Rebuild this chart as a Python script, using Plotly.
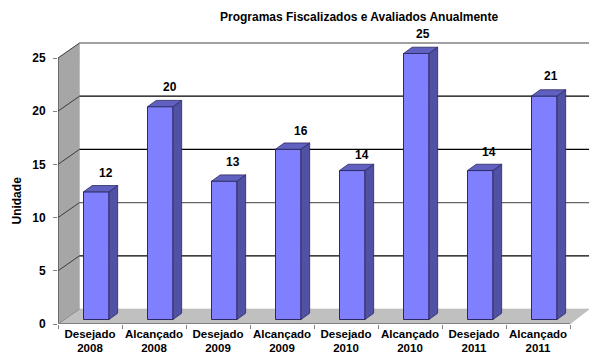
import plotly.graph_objects as go

categories = ["Desejado<br>2008", "Alcançado<br>2008", "Desejado<br>2009", "Alcançado<br>2009",
              "Desejado<br>2010", "Alcançado<br>2010", "Desejado<br>2011", "Alcançado<br>2011"]
values = [12, 20, 13, 16, 14, 25, 14, 21]
y_ticks = [0, 5, 10, 15, 20, 25]
grid_colors = ["#808080", "#000000", "#666666", "#000000", "#000000", "#444444"]
label_nudge_x = [5, 5, 4, 8, 5, 2, 4, 2]
label_nudge_y = [1, 1, 1, 0, -3, 1, 0, 2]

W, H = 589, 357
L, R, T, B = 57.5, 0, 30, 33
PX_X = 64.06
PX_Y = 10.64
x_range = [-0.5, -0.5 + (W - L - R) / PX_X]
y_range = [0, (H - T - B) / PX_Y]

wall_dx, wall_dy = 21.5 / PX_X, 15 / PX_Y
bar_off_x, bar_off_y = 6.25 / PX_X, 4.5 / PX_Y
bar_w = 25.5 / PX_X
depth_x, depth_y = 8.7 / PX_X, 6.3 / PX_Y
xs = list(range(len(values)))
x_left, x_right = -0.5, len(values) - 0.5
top_v = y_ticks[-1]


def poly(points):
    return "M" + " L".join(f"{a},{b}" for a, b in points) + " Z"


shapes = [
    dict(type="path", layer="below", xref="x", yref="y",
         path=poly([(x_left, 0), (x_left + wall_dx, wall_dy), (x_left + wall_dx, top_v + wall_dy), (x_left, top_v)]),
         fillcolor="#A6A6A6", line=dict(color="#A6A6A6", width=0.5)),
    dict(type="path", layer="below", xref="x", yref="y",
         path=poly([(x_left, 0), (x_right, 0), (x_right + wall_dx * 0.9, wall_dy), (x_left + wall_dx, wall_dy)]),
         fillcolor="#C0C0C0", line=dict(color="#B0B0B0", width=0.5)),
    dict(type="line", layer="below", xref="x", yref="y", x0=x_left, x1=x_left, y0=0, y1=top_v,
         line=dict(color="#303030", width=1)),
    dict(type="line", layer="below", xref="x", yref="y", x0=x_left, x1=x_right, y0=0, y1=0,
         line=dict(color="#808080", width=2)),
]
for t, c in zip(y_ticks, grid_colors):
    if t > 0:
        shapes.append(dict(type="line", layer="below", xref="x", yref="y",
                           x0=x_left + wall_dx, x1=x_range[1], y0=t + wall_dy, y1=t + wall_dy,
                           line=dict(color=c, width=1.2)))
    shapes.append(dict(type="line", layer="below", xref="x", yref="y",
                       x0=x_left, x1=x_left + wall_dx, y0=t, y1=t + wall_dy,
                       line=dict(color="#222222" if t else "#808080", width=0.8)))

fig = go.Figure()
fig.add_trace(go.Bar(
    x=[i + bar_off_x for i in xs], y=values, base=[bar_off_y] * len(values), width=bar_w,
    marker=dict(color="#8080FF", line=dict(color="#2A2A60", width=1)), hoverinfo="skip"))

for i, v in zip(xs, values):
    x0 = i + bar_off_x - bar_w / 2
    x1 = i + bar_off_x + bar_w / 2
    y0 = bar_off_y
    y1 = bar_off_y + v
    fig.add_trace(go.Scatter(
        x=[x1, x1 + depth_x, x1 + depth_x, x1, x1], y=[y0, y0 + depth_y, y1 + depth_y, y1, y0],
        mode="lines", fill="toself", fillcolor="#5050A5",
        line=dict(color="#2A2A60", width=0.8), hoverinfo="skip"))
    fig.add_trace(go.Scatter(
        x=[x0, x1, x1 + depth_x, x0 + depth_x, x0], y=[y1, y1, y1 + depth_y, y1 + depth_y, y1],
        mode="lines", fill="toself", fillcolor="#6060C0",
        line=dict(color="#2A2A60", width=0.8), hoverinfo="skip"))

font_bold = "Liberation Sans"
annotations = [
    dict(x=i + bar_off_x + depth_x / 2, y=bar_off_y + v + depth_y, xref="x", yref="y", text=f"<b>{v}</b>",
         showarrow=False, yanchor="bottom", xshift=nx, yshift=3 + ny,
         font=dict(family=font_bold, size=12, color="#000000"))
    for i, v, nx, ny in zip(xs, values, label_nudge_x, label_nudge_y)
]
annotations.append(dict(xref="paper", yref="paper", x=(359 - L) / (W - L), y=1 + (T - 17) / (H - T - B),
                        xanchor="center", yanchor="middle",
                        text="<b>Programas Fiscalizados e Avaliados Anualmente</b>", showarrow=False,
                        font=dict(family=font_bold, size=12, color="#000000")))
annotations.append(dict(xref="paper", yref="paper", x=(16 - L) / (W - L), y=(H - B - 201) / (H - T - B),
                        xanchor="center", yanchor="middle",
                        text="<b>Unidade</b>", showarrow=False, textangle=-90,
                        font=dict(family=font_bold, size=12, color="#000000")))

fig.update_layout(
    width=W, height=H, margin=dict(l=L, r=R, t=T, b=B), autosize=False,
    paper_bgcolor="#FFFFFF", plot_bgcolor="#FFFFFF", showlegend=False, barmode="overlay",
    shapes=shapes, annotations=annotations,
    font=dict(family=font_bold, color="#000000"),
    xaxis=dict(range=x_range, tickmode="array", tickvals=xs,
               ticktext=[f"<b>{c.replace('<br>', '</b><br><b>')}</b>" for c in categories],
               ticks="", showgrid=False, zeroline=False, showline=False, tickangle=0,
               ticklabelstandoff=1,
               tickfont=dict(size=11.5, family=font_bold, color="#000000"), automargin=False,
               minor=dict(tickvals=[i - 0.5 for i in xs] + [x_right], ticks="outside", ticklen=4,
                          tickcolor="#808080", tickwidth=1, showgrid=False)),
    yaxis=dict(range=y_range, tickmode="array", tickvals=y_ticks,
               ticktext=[f"<b>{t}</b>" for t in y_ticks],
               ticks="outside", ticklen=4, tickcolor="#808080", tickwidth=1,
               showgrid=False, zeroline=False, showline=False, ticklabelstandoff=5,
               tickfont=dict(size=12, family=font_bold, color="#000000"), automargin=False),
)
fig.write_html("out.html", config={"displayModeBar": False},
               post_script="document.body.style.margin='0';document.documentElement.style.overflow='hidden';")
